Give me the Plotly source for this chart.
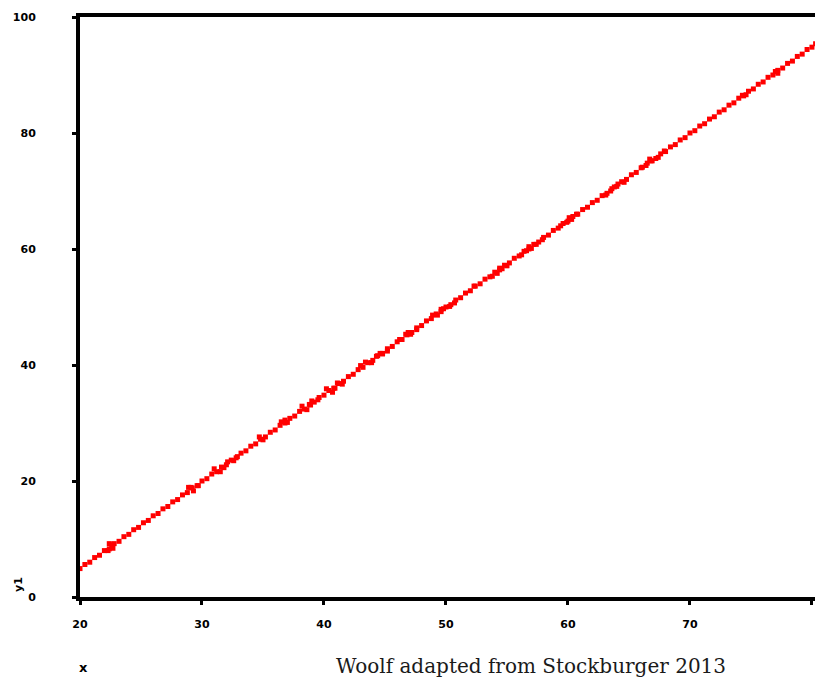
import plotly.graph_objects as go

# main chain of observations
x_main = [20.0, 20.4, 20.8, 21.2, 21.6, 22.0, 22.4, 22.8, 23.2, 23.6, 24.0, 24.4, 24.8, 25.2, 25.6,
          26.0, 26.4, 26.8, 27.2, 27.6, 28.0, 28.4, 28.8, 29.2, 29.6, 30.0, 30.4, 30.8, 31.2, 31.6,
          32.0, 32.4, 32.8, 33.2, 33.6, 34.0, 34.4, 34.8, 35.2, 35.6, 36.0, 36.4, 36.8, 37.2, 37.6,
          38.0, 38.4, 38.8, 39.2, 39.6, 40.0, 40.4, 40.8, 41.2, 41.6, 42.0, 42.4, 42.8, 43.2, 43.6,
          44.0, 44.4, 44.8, 45.2, 45.6, 46.0, 46.4, 46.8, 47.2, 47.6, 48.0, 48.4, 48.8, 49.2, 49.6,
          50.0, 50.4, 50.8, 51.2, 51.6, 52.0, 52.4, 52.8, 53.2, 53.6, 54.0, 54.4, 54.8, 55.2, 55.6,
          56.0, 56.4, 56.8, 57.2, 57.6, 58.0, 58.4, 58.8, 59.2, 59.6, 60.0, 60.4, 60.8, 61.2, 61.6,
          62.0, 62.4, 62.8, 63.2, 63.6, 64.0, 64.4, 64.8, 65.2, 65.6, 66.0, 66.4, 66.8, 67.2, 67.6,
          68.0, 68.4, 68.8, 69.2, 69.6, 70.0, 70.4, 70.8, 71.2, 71.6, 72.0, 72.4, 72.8, 73.2, 73.6,
          74.0, 74.4, 74.8, 75.2, 75.6, 76.0, 76.4, 76.8, 77.2, 77.6, 78.0, 78.4, 78.8, 79.2, 79.6,
          80.0, 80.3]
y_main = [4.9, 5.6, 6.0, 6.8, 7.2, 8.0, 8.3, 9.2, 9.6, 10.4, 10.8, 11.6, 12.0, 12.8, 13.2,
          14.0, 14.4, 15.2, 15.6, 16.4, 16.8, 17.6, 18.0, 18.8, 19.2, 20.0, 20.4, 21.2, 21.6, 22.4,
          22.8, 23.6, 24.0, 24.8, 25.2, 26.0, 26.4, 27.2, 27.6, 28.4, 28.8, 29.6, 30.0, 30.8, 31.2,
          32.0, 32.4, 33.2, 33.6, 34.4, 34.8, 35.6, 36.0, 36.8, 37.2, 38.0, 38.4, 39.2, 39.6, 40.4,
          40.8, 41.6, 42.0, 42.8, 43.2, 44.0, 44.4, 45.2, 45.6, 46.4, 46.8, 47.6, 48.0, 48.8, 49.2,
          50.0, 50.4, 51.2, 51.6, 52.4, 52.8, 53.6, 54.0, 54.8, 55.2, 56.0, 56.4, 57.2, 57.6, 58.4,
          58.8, 59.6, 60.0, 60.8, 61.2, 62.0, 62.4, 63.2, 63.6, 64.4, 64.8, 65.6, 66.0, 66.8, 67.2,
          68.0, 68.4, 69.2, 69.6, 70.4, 70.8, 71.6, 72.0, 72.8, 73.2, 74.0, 74.4, 75.2, 75.6, 76.4,
          76.8, 77.6, 78.0, 78.8, 79.2, 80.0, 80.4, 81.2, 81.6, 82.4, 82.8, 83.6, 84.0, 84.8, 85.2,
          86.0, 86.4, 87.2, 87.6, 88.4, 88.8, 89.6, 90.0, 90.8, 91.2, 92.0, 92.4, 93.2, 93.6, 94.4,
          94.8, 95.4]

# additional observations in the denser stretches
x_extra = [22.4, 22.7, 22.6, 22.3, 28.9, 29.3, 29.7, 29.1, 31.0, 31.5, 32.1, 32.6, 31.8, 32.9,
           34.7, 35.0, 36.5, 37.0, 36.8, 38.2, 38.6, 39.0, 39.5, 38.9, 40.2, 40.7, 41.1, 41.5,
           40.9, 43.0, 43.4, 43.9, 44.3, 44.8, 45.2, 44.6, 46.2, 46.7, 47.1, 47.6, 46.9,
           48.9, 49.3, 49.8, 50.3, 50.7, 49.6, 52.3, 53.8, 54.2, 54.6, 55.0, 54.4,
           56.2, 56.6, 57.0, 57.4, 57.9, 56.8, 59.4, 59.9, 60.3, 60.7, 60.1, 63.1, 63.5, 64.1,
           64.6, 63.8, 66.1, 66.5, 66.9, 67.4, 67.9, 66.7, 74.3, 74.6, 77.0, 77.2]
y_extra = [9.2, 8.4, 9.0, 8.0, 18.9, 18.3, 19.2, 18.9, 22.1, 21.6, 23.3, 23.5, 22.3, 24.2,
           27.6, 27.1, 30.2, 30.1, 30.5, 32.9, 32.3, 33.8, 34.0, 33.1, 35.9, 35.3, 36.9, 36.7,
           36.0, 39.9, 40.5, 40.4, 41.5, 41.9, 42.4, 42.0, 44.4, 45.3, 45.3, 46.1, 45.6,
           48.6, 48.6, 49.7, 50.1, 50.7, 49.6, 53.6, 55.3, 55.8, 56.6, 57.1, 56.7,
           59.0, 59.7, 60.1, 60.8, 61.6, 60.4, 64.0, 64.6, 65.1, 66.0, 65.4, 69.3, 70.0, 71.2,
           71.5, 70.7, 74.1, 74.8, 75.2, 75.8, 76.9, 75.5, 86.5, 86.6, 90.6, 90.3]

x_ticks = [20, 30, 40, 50, 60, 70, 80]
y_ticks = [0, 20, 40, 60, 80, 100]

marker = dict(symbol="square", size=5, color="#ff0000", line=dict(width=0))
fig = go.Figure()
fig.add_trace(go.Scatter(x=x_main, y=y_main, mode="markers", marker=marker,
                         showlegend=False, cliponaxis=True))
fig.add_trace(go.Scatter(x=x_extra, y=y_extra, mode="markers", marker=marker,
                         showlegend=False, cliponaxis=True))

tickfont = dict(family="DejaVu Sans", size=11, color="black", weight="bold")
fig.update_layout(
    width=815, height=677,
    margin=dict(l=80, r=0, t=17, b=80),
    paper_bgcolor="white", plot_bgcolor="white",
    xaxis=dict(range=[20, 80.25], tickvals=x_ticks, ticktext=[str(v) for v in x_ticks],
               showgrid=False, zeroline=False, showline=True, linecolor="black",
               linewidth=4, mirror=True, ticks="outside", ticklen=4, tickwidth=3,
               tickcolor="black", tickfont=tickfont, ticklabelstandoff=10),
    yaxis=dict(range=[0, 100], tickvals=y_ticks, ticktext=[str(v) for v in y_ticks],
               showgrid=False, zeroline=False, showline=True, linecolor="black",
               linewidth=4, mirror=False, ticks="outside", ticklen=4, tickwidth=3,
               tickcolor="black", tickfont=tickfont, ticklabelstandoff=34),
    annotations=[
        dict(text="y1", xref="paper", yref="paper", x=-62 / 735, y=12 / 580, xanchor="center",
             yanchor="middle", textangle=-90, showarrow=False,
             font=dict(family="DejaVu Sans", size=11, color="black", weight="bold")),
        dict(text="x", xref="paper", yref="paper", x=3 / 735, y=-70 / 580, xanchor="center",
             yanchor="middle", showarrow=False,
             font=dict(family="DejaVu Sans", size=13, color="black", weight="bold")),
        dict(text="Woolf adapted from Stockburger 2013", xref="paper", yref="paper",
             x=451 / 735, y=-69 / 580, xanchor="center", yanchor="middle", showarrow=False,
             font=dict(family="DejaVu Serif", size=20, color="#1a1a1a")),
    ],
)

fig.write_html(
    "out.html",
    config={"displayModeBar": False},
    post_script="document.body.style.margin='0';document.body.style.overflow='hidden';",
)
